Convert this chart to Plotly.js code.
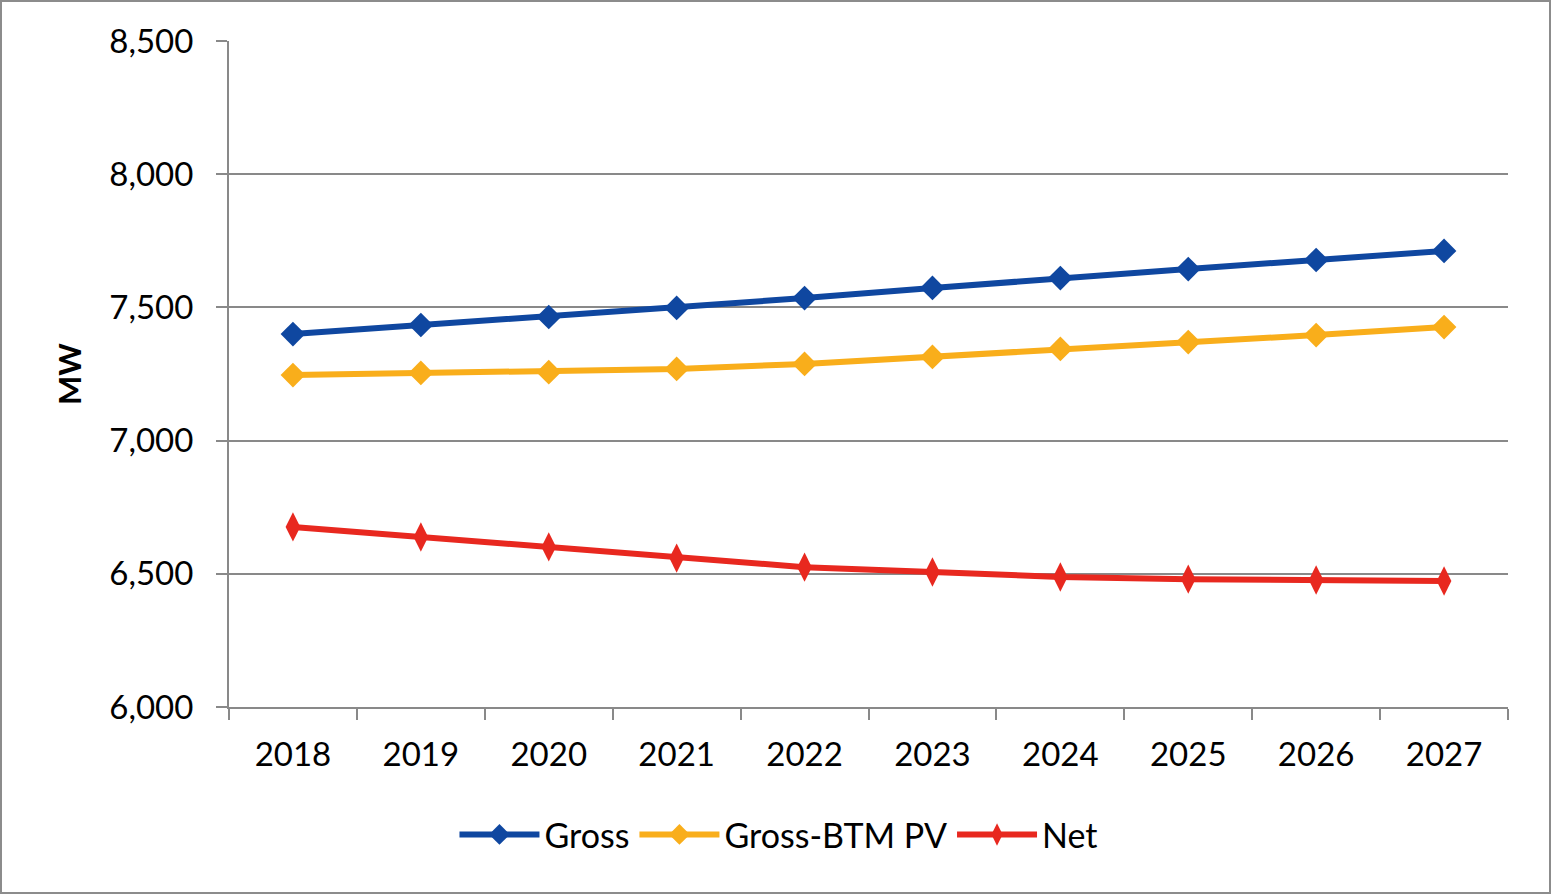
<!DOCTYPE html>
<html>
<head>
<meta charset="utf-8">
<script src="https://cdn.plot.ly/plotly-3.0.1.min.js"></script>
<style>
html,body{margin:0;padding:0;background:#fff;}
#wrap{position:relative;width:1551px;height:894px;}
#chart{width:1551px;height:894px;}
#border{position:absolute;left:0;top:0;width:1547px;height:890px;border:2px solid #8c8c8c;pointer-events:none;}
</style>
</head>
<body>
<div id="wrap"><div id="chart"></div><div id="border"></div></div>
<script>
const years = ['2018','2019','2020','2021','2022','2023','2024','2025','2026','2027'];
const gross = [7400, 7434, 7464, 7498, 7535, 7573, 7610, 7644, 7678, 7712];
const grossBtm = [7246, 7254, 7257, 7269, 7288, 7314, 7344, 7370, 7396, 7426];
const net = [6676, 6638, 6601, 6559, 6525, 6507, 6488, 6480, 6477, 6473];
const yTicks = [6000, 6500, 7000, 7500, 8000, 8500];

const FONT = 'Lato, "Open Sans", sans-serif';
function series(name, y, color, sym, size){
  return {type:'scatter', mode:'lines+markers', name:name, x:years, y:y,
    line:{color:color, width:6},
    marker:{symbol:sym, size:size, color:color}};
}
const data = [
  series('Gross', gross, '#0F47A0', 'diamond', 19),
  series('Gross-BTM PV', grossBtm, '#F9AE1B', 'diamond', 19),
  series('Net', net, '#E8281F', 'diamond-tall', 21)
];
const layout = {
  width:1551, height:894,
  margin:{l:229, r:43, t:41, b:187},
  paper_bgcolor:'#fff', plot_bgcolor:'#fff',
  font:{family:FONT, size:33, color:'#000'},
  showlegend:true,
  legend:{orientation:'h', x:0.43, xanchor:'center', y:-0.192, yanchor:'middle',
    itemwidth:80,
    font:{family:FONT, size:34, color:'#000'}, traceorder:'normal'},
  xaxis:{type:'category', range:[-0.5, 9.5], tickson:'boundaries', showgrid:false, showline:true,
    linecolor:'#898989', linewidth:2, ticks:'outside', ticklen:11, tickwidth:2, tickcolor:'#898989',
    ticklabelstandoff:17,
    zeroline:false, tickfont:{family:FONT, size:33}, fixedrange:true},
  yaxis:{range:[6000,8500], tickvals:yTicks, tickformat:',d', showgrid:true, gridcolor:'#898989', gridwidth:2,
    showline:true, linecolor:'#898989', linewidth:2, ticks:'outside', ticklen:11, tickwidth:2, tickcolor:'#898989',
    ticklabelstandoff:16,
    zeroline:false, tickfont:{family:FONT, size:33},
    title:{text:'<b>MW</b>', font:{family:FONT, size:31}, standoff:18}, fixedrange:true}
};
Plotly.newPlot('chart', data, layout, {displayModeBar:false, staticPlot:true});
</script>
</body>
</html>
